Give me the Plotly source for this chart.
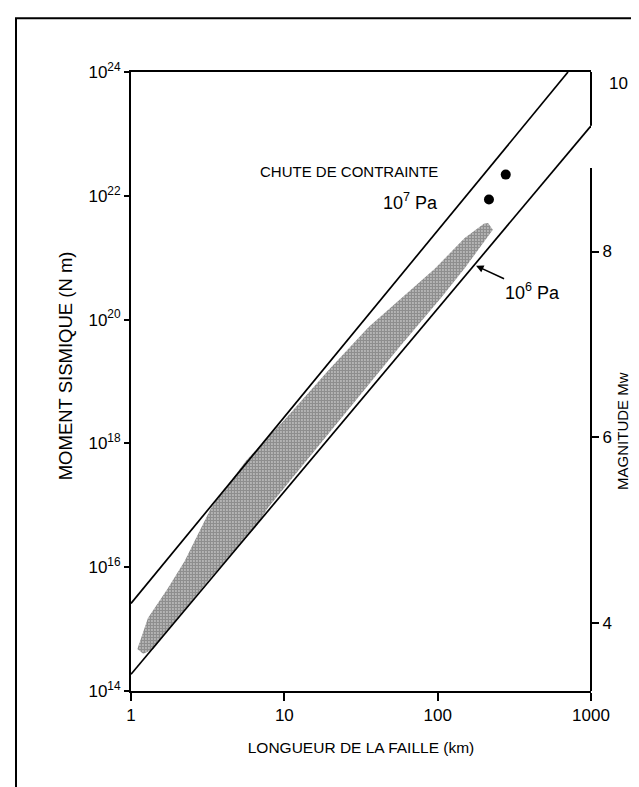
import numpy as np
import plotly.graph_objects as go


##############################################################
# Data
##############################################################

# tick labels
length_ticks = [1, 10, 100, 1000]
moment_tick_exp = [14, 16, 18, 20, 22, 24]
magnitude_ticks = [4, 6, 8]

# stress drop lines (fault length km, seismic moment N m)
line_1e7_length = [1, 708]
line_1e7_moment = [2.6e15, 1.0e24]
line_1e6_length = [1, 1000]
line_1e6_moment = [1.86e14, 1.35e23]

# two large earthquakes
quake_length = [216, 278]
quake_moment = [8.7e21, 2.2e22]

# outline of the stippled cloud of data
band_length = [1.10, 1.29, 1.74, 2.24, 3.33, 5.62, 10.0, 20.0, 35.5, 61.0, 95.7,
               150, 200, 213, 229, 150, 105, 56.0, 31.6, 15.8, 7.82, 6.41, 4.30,
               3.18, 2.03, 1.39, 1.20]
band_log_moment = [14.68, 15.18, 15.66, 16.10, 16.96, 17.72, 18.38, 19.22, 19.88,
                   20.40, 20.82, 21.32, 21.55, 21.56, 21.45, 20.83, 20.35, 19.55,
                   18.80, 17.90, 16.96, 16.63, 16.15, 15.78, 15.18, 14.67, 14.60]


def mw(m0):
    return (2.0 / 3.0) * (np.log10(m0) - 9.1)


FONT = "Liberation Sans, Arial, sans-serif"

fig = go.Figure()

# stippled cloud
fig.add_trace(go.Scatter(
    x=band_length,
    y=[10.0 ** v for v in band_log_moment],
    mode="lines",
    fill="toself",
    line=dict(width=0, color="rgba(0,0,0,0)"),
    fillcolor="rgba(0,0,0,0)",
    fillpattern=dict(shape=".", size=3, solidity=0.8,
                     fgcolor="#1e1e1e", bgcolor="white"),
    hoverinfo="skip",
    showlegend=False
))

# stress drop lines
for lx, ly in [(line_1e7_length, line_1e7_moment),
               (line_1e6_length, line_1e6_moment)]:
    fig.add_trace(go.Scatter(
        x=lx, y=ly, mode="lines",
        line=dict(color="black", width=1.7),
        showlegend=False
    ))

# big quakes
fig.add_trace(go.Scatter(
    x=quake_length, y=quake_moment, mode="markers",
    marker=dict(color="black", size=10),
    showlegend=False
))

# dummy trace for the magnitude axis
fig.add_trace(go.Scatter(
    x=[1, 1000], y=[mw(1e14), mw(1e24)], yaxis="y2",
    mode="lines", line=dict(width=0), opacity=0,
    hoverinfo="skip", showlegend=False
))

fig.update_layout(
    width=639, height=787,
    margin=dict(l=123, r=56, t=64, b=104),
    paper_bgcolor="white",
    plot_bgcolor="white",
    font=dict(family=FONT, size=17, color="black"),
    xaxis=dict(
        type="log", range=[0, 3],
        tickvals=length_ticks, ticktext=[str(v) for v in length_ticks],
        ticks="outside", ticklen=8, tickwidth=1.5, tickcolor="black",
        showline=True, linecolor="black", linewidth=2, mirror=True,
        showgrid=False, zeroline=False,
        title=dict(text="LONGUEUR DE LA FAILLE (km)",
                   font=dict(size=15.5), standoff=18)
    ),
    yaxis=dict(
        type="log", range=[14, 24],
        tickvals=[10.0 ** e for e in moment_tick_exp],
        ticktext=["10<sup>%d</sup>" % e for e in moment_tick_exp],
        ticks="outside", ticklen=5, tickwidth=1.5, tickcolor="black",
        showline=True, linecolor="black", linewidth=2,
        showgrid=False, zeroline=False
    ),
    yaxis2=dict(
        overlaying="y", side="right",
        range=[mw(1e14), mw(1e24)],
        tickvals=magnitude_ticks,
        ticks="outside", ticklen=7, tickwidth=1.5, tickcolor="black",
        showline=False, showgrid=False, zeroline=False
    )
)

# right axis line, with the gap seen in the scan
fig.add_shape(type="line", xref="paper", yref="paper", x0=1, x1=1,
              y0=0, y1=0.845, line=dict(color="black", width=2))
fig.add_shape(type="line", xref="paper", yref="paper", x0=1, x1=1,
              y0=0.913, y1=1, line=dict(color="black", width=2))

# outer frame
fig.add_shape(type="rect", xref="paper", yref="paper",
              x0=-0.25, x1=1.2, y0=-0.2, y1=1.087,
              line=dict(color="black", width=2))

# axis titles
fig.add_annotation(text="MOMENT SISMIQUE (N m)", xref="paper", yref="paper",
                   x=-0.17, y=0.525, showarrow=False, textangle=-90,
                   font=dict(size=18.5))
fig.add_annotation(text="MAGNITUDE Mw", xref="paper", yref="paper",
                   x=1.09, y=0.42, showarrow=False, textangle=-90,
                   font=dict(size=15))
fig.add_annotation(text="10", xref="paper", yref="paper",
                   x=1.035, y=1.0, xanchor="left", showarrow=False,
                   font=dict(size=17))

# labels in the plot
fig.add_annotation(text="CHUTE DE CONTRAINTE", x=np.log10(104), y=22.4,
                   xanchor="right", showarrow=False, font=dict(size=15))
fig.add_annotation(text="10<sup>7</sup> Pa", x=np.log10(104), y=21.9,
                   xanchor="right", showarrow=False, font=dict(size=18))
fig.add_annotation(text="10<sup>6</sup> Pa", x=np.log10(178), y=20.87,
                   ax=56, ay=26, showarrow=True, arrowhead=2, arrowsize=1,
                   arrowwidth=1.5, arrowcolor="black", font=dict(size=18))

fig.write_html("out.html")
